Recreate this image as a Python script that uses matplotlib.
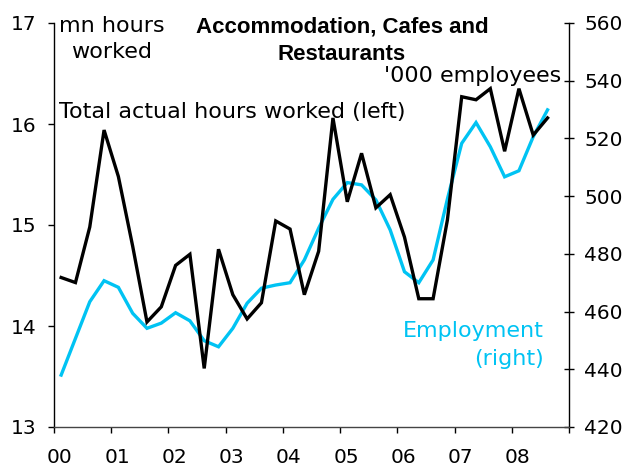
import matplotlib
matplotlib.use('Agg')
import matplotlib.pyplot as plt
import matplotlib.transforms as mtransforms
import numpy as np

# quarterly, 2000 Q1 .. 2008 Q3
quarters = [f"{y}Q{q}" for y in range(2000, 2009) for q in range(1, 5)][:35]
hours = [14.48, 14.43, 14.98, 15.94, 15.48, 14.79, 14.04, 14.19,
         14.60, 14.71, 13.58, 14.76, 14.31, 14.07, 14.23, 15.04,
         14.96, 14.31, 14.74, 16.06, 15.23, 15.71, 15.17, 15.30,
         14.88, 14.27, 14.27, 15.05, 16.27, 16.24, 16.35, 15.73,
         16.35, 15.89, 16.06]
employment = [438.0, 450.7, 463.4, 470.7, 468.4, 459.4, 454.2, 456.0,
              459.6, 456.8, 449.9, 447.8, 454.2, 462.9, 468.1, 469.2,
              470.0, 477.9, 488.9, 498.9, 504.7, 503.9, 498.7, 488.3,
              473.8, 470.0, 477.9, 499.0, 518.3, 525.5, 517.1, 506.7,
              508.8, 520.6, 529.9]
year_ticks = list(range(2000, 2010))
year_labels = ['00', '01', '02', '03', '04', '05', '06', '07', '08', '']

BLUE = '#00c3f3'
W, H = 631, 468

x = np.array([int(s[:4]) + (int(s[-1]) - 0.5) / 4 for s in quarters])

plt.rcParams['font.family'] = 'DejaVu Sans'
fig = plt.figure(figsize=(W / 100, H / 100), dpi=100)
ax = fig.add_axes([54 / W, 1 - 427 / H, (569 - 54) / W, (427 - 23) / H])
ax2 = ax.twinx()

ax.plot(x, hours, color='black', lw=2.4, solid_joinstyle='miter', zorder=3)
ax2.plot(x, employment, color=BLUE, lw=2.4, solid_joinstyle='miter', zorder=2)
ax.set_zorder(ax2.get_zorder() + 1)
ax.patch.set_visible(False)

ax.set_xlim(2000, 2009)
ax.set_ylim(13, 17)
ax2.set_ylim(420, 560)
ax.set_yticks([13, 14, 15, 16, 17])
ax2.set_yticks(np.arange(420, 561, 20))
ax.set_xticks(year_ticks)
ax.set_xticklabels(year_labels)

for a in (ax, ax2):
    a.spines['top'].set_visible(False)
    for s in a.spines.values():
        s.set_linewidth(1.0)
ax.spines['right'].set_visible(False)
ax.spines['bottom'].set_color('#444444')
ax2.spines['left'].set_visible(False)
ax2.spines['bottom'].set_visible(False)

ax.tick_params(axis='y', direction='out', length=4.3, width=1, labelsize=14.5, pad=8.6)
ax.tick_params(axis='x', direction='out', length=4.3, width=1, labelsize=14.5, pad=10.5)
ax2.tick_params(axis='y', direction='inout', length=7.2, width=1, labelsize=14.5, pad=7.5)

offset = mtransforms.ScaledTranslation(6 / 100, 0, fig.dpi_scale_trans)
for lab in ax.get_xticklabels():
    lab.set_transform(lab.get_transform() + offset)


def put(px, py, s, ha='left', **kw):
    kw.setdefault('fontsize', 16)
    fig.text(px / W, 1 - py / H, s, ha=ha, va='baseline', **kw)


title_kw = dict(family='Liberation Sans', fontweight='bold', fontsize=16)
put(342, 32, 'Accommodation, Cafes and', ha='center', **title_kw)
put(342, 60, 'Restaurants', ha='center', **title_kw)
put(112, 32, 'mn hours', ha='center')
put(112, 58, 'worked', ha='center')
put(59, 118, 'Total actual hours worked (left)')
put(561, 82, "'000 employees", ha='right')
put(544, 337, 'Employment', ha='right', color=BLUE)
put(544, 365, '(right)', ha='right', color=BLUE)

fig.savefig('out.png', dpi=100)
